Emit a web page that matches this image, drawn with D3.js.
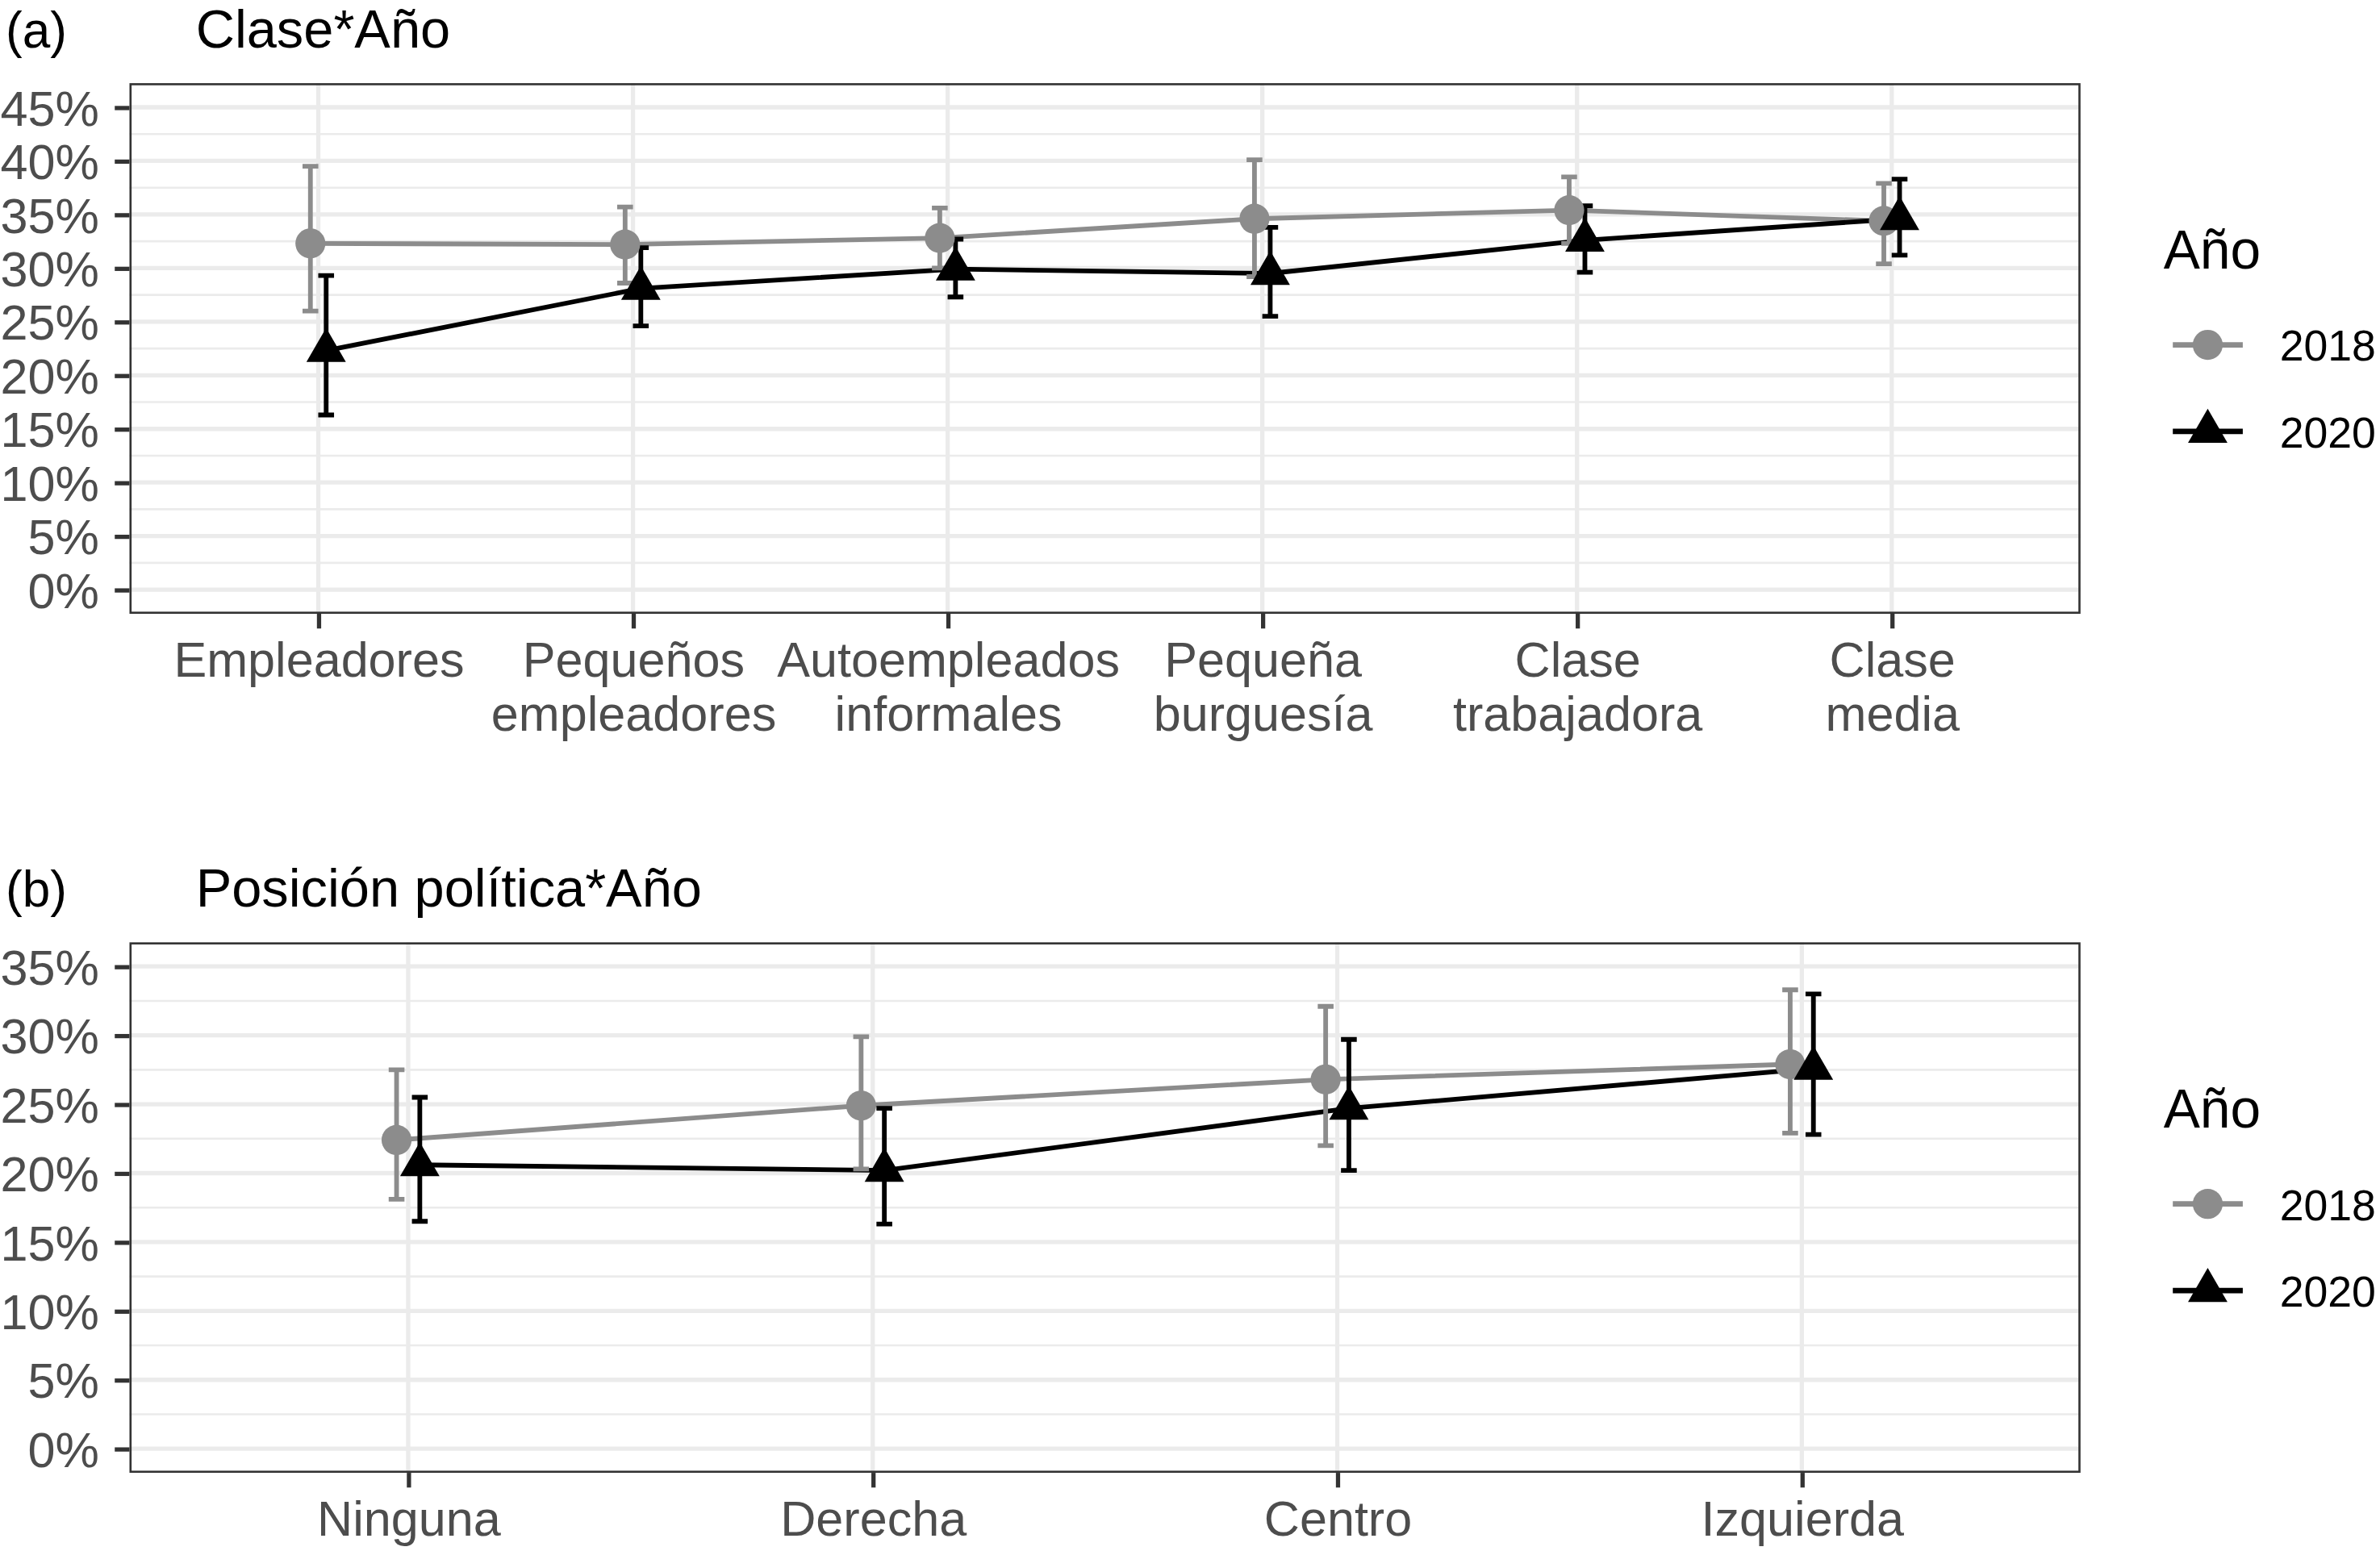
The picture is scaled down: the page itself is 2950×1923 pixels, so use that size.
<!DOCTYPE html>
<html>
<head>
<meta charset="utf-8">
<script src="https://cdn.jsdelivr.net/npm/d3@7"></script>
<style>
html, body { margin: 0; padding: 0; background: #fff; }
svg { display: block; }
text { font-family: "Liberation Sans", Arial, Helvetica, sans-serif; }
</style>
</head>
<body>
<div id="chart"></div>
<script>
"use strict";
// (a) Clase*Año
var claseCategories = [["Empleadores"], ["Pequeños", "empleadores"], ["Autoempleados", "informales"],
    ["Pequeña", "burguesía"], ["Clase", "trabajadora"], ["Clase", "media"]];
var clase2018 = [32.3, 32.2, 32.8, 34.6, 35.4, 34.4];
var clase2018Lo = [26.0, 28.6, 30.0, 29.2, 32.3, 30.4];
var clase2018Hi = [39.5, 35.7, 35.6, 40.1, 38.5, 37.9];
var clase2020 = [22.3, 28.1, 29.9, 29.5, 32.6, 34.6];
var clase2020Lo = [16.3, 24.6, 27.3, 25.5, 29.6, 31.2];
var clase2020Hi = [29.3, 31.9, 32.7, 33.8, 35.8, 38.3];

// (b) Posición política*Año
var polCategories = [["Ninguna"], ["Derecha"], ["Centro"], ["Izquierda"]];
var pol2018 = [22.4, 24.9, 26.8, 27.9];
var pol2018Lo = [18.1, 20.3, 22.0, 22.9];
var pol2018Hi = [27.5, 29.9, 32.1, 33.3];
var pol2020 = [20.6, 20.2, 24.7, 27.6];
var pol2020Lo = [16.5, 16.3, 20.2, 22.8];
var pol2020Hi = [25.5, 24.7, 29.7, 33.0];

var years = ["2018", "2020"];
var yearColors = ["#8c8c8c", "#000000"];
var yearShapes = ["circle", "triangle"];

var W = 1568, H = 1022.12;
var plotLeft = 85.3, plotRight = 1370.7;
var tickColor = "#333333", gridColor = "#ebebeb", labelColor = "#4d4d4d";

var svg = d3.select("#chart").append("svg")
    .attr("width", 2950)
    .attr("height", 1923)
    .attr("viewBox", "0 0 " + W + " " + H);
svg.append("rect").attr("width", W).attr("height", H).attr("fill", "#fff");

function shapePath(shape) {
    if (shape === "circle") {
        return d3.symbol().type(d3.symbolCircle).size(Math.PI * 9.9 * 9.9)();
    }
    var r = 15;
    return "M0," + (-r) + "L" + (r * Math.sqrt(3) / 2) + "," + (r / 2) + "L" + (-r * Math.sqrt(3) / 2) + "," + (r / 2) + "Z";
}

function drawPanel(opts) {
    var g = svg.append("g");
    var top = opts.top, bottom = opts.bottom;
    var pad = opts.yMax * 0.05;
    var y = d3.scaleLinear().domain([-pad, opts.yMax + pad]).range([bottom, top]);
    var x = d3.scalePoint().domain(d3.range(opts.categories.length)).range([plotLeft, plotRight]).padding(0.6);

    // titles
    g.append("text").attr("x", 3.7).attr("y", top - 23.6)
        .attr("font-size", 33).attr("fill", "#000").text(opts.tag);
    g.append("text").attr("x", 129).attr("y", top - 23.6)
        .attr("font-size", 35.5).attr("fill", "#000").text(opts.title);

    // grid
    var major = d3.range(0, opts.yMax + 0.01, 5);
    var minor = d3.range(2.5, opts.yMax, 5);
    g.append("g").selectAll("line").data(minor).enter().append("line")
        .attr("x1", plotLeft).attr("x2", plotRight)
        .attr("y1", function (d) { return y(d); }).attr("y2", function (d) { return y(d); })
        .attr("stroke", gridColor).attr("stroke-width", 1.4);
    g.append("g").selectAll("line").data(major).enter().append("line")
        .attr("x1", plotLeft).attr("x2", plotRight)
        .attr("y1", function (d) { return y(d); }).attr("y2", function (d) { return y(d); })
        .attr("stroke", gridColor).attr("stroke-width", 2.8);
    g.append("g").selectAll("line").data(x.domain()).enter().append("line")
        .attr("y1", top).attr("y2", bottom)
        .attr("x1", function (d) { return x(d); }).attr("x2", function (d) { return x(d); })
        .attr("stroke", gridColor).attr("stroke-width", 2.8);

    // series
    var series = years.map(function (yr, k) {
        var off = (k - 0.5) * 0.05 * x.step();
        return {
            year: yr, color: yearColors[k], shape: yearShapes[k],
            values: opts.est[k].map(function (v, i) {
                return { x: x(i) + off, est: v, lo: opts.lo[k][i], hi: opts.hi[k][i] };
            })
        };
    });
    var line = d3.line().x(function (d) { return d.x; }).y(function (d) { return y(d.est); });
    g.append("g").selectAll("path").data(series).enter().append("path")
        .attr("d", function (s) { return line(s.values); })
        .attr("fill", "none").attr("stroke", function (s) { return s.color; })
        .attr("stroke-width", 3.1);
    var cap = 5.2;
    series.forEach(function (s) {
        g.append("g").selectAll("path").data(s.values).enter().append("path")
            .attr("d", function (d) {
                return "M" + (d.x - cap) + "," + y(d.hi) + "H" + (d.x + cap) +
                    "M" + d.x + "," + y(d.hi) + "V" + y(d.lo) +
                    "M" + (d.x - cap) + "," + y(d.lo) + "H" + (d.x + cap);
            })
            .attr("fill", "none").attr("stroke", s.color).attr("stroke-width", 3.1);
    });
    series.forEach(function (s) {
        g.append("g").selectAll("path").data(s.values).enter().append("path")
            .attr("transform", function (d) { return "translate(" + d.x + "," + y(d.est) + ")"; })
            .attr("d", shapePath(s.shape))
            .attr("fill", s.color);
    });

    // border (clipped half line like ggplot)
    g.append("rect").attr("x", plotLeft + 0.7).attr("y", top + 0.7)
        .attr("width", plotRight - plotLeft - 1.4).attr("height", bottom - top - 1.4)
        .attr("fill", "none").attr("stroke", tickColor).attr("stroke-width", 1.4);

    // y axis
    var yAxis = g.append("g").attr("transform", "translate(" + plotLeft + ",0)")
        .call(d3.axisLeft(y).tickValues(major).tickSize(9.7).tickPadding(10.3)
            .tickFormat(function (d) { return d + "%"; }));
    yAxis.select(".domain").remove();
    yAxis.selectAll(".tick line").attr("stroke", tickColor).attr("stroke-width", 2.8);
    yAxis.selectAll(".tick text").attr("font-size", 32.5).attr("fill", labelColor)
        .attr("font-family", null).attr("dy", "0.355em");

    // x axis
    var xAxis = g.append("g").attr("transform", "translate(0," + bottom + ")")
        .call(d3.axisBottom(x).tickSize(9.7).tickFormat(function () { return ""; }));
    xAxis.select(".domain").remove();
    xAxis.selectAll(".tick line").attr("stroke", tickColor).attr("stroke-width", 2.8);
    xAxis.selectAll(".tick text").attr("font-size", 32.5).attr("fill", labelColor)
        .attr("font-family", null).attr("dy", null).attr("y", null)
        .each(function (d) {
            var t = d3.select(this);
            opts.categories[d].forEach(function (l, j) {
                t.append("tspan").attr("x", 0).attr("y", 41.6 + j * 35.5).text(l);
            });
        });

    // legend
    var mid = (top + bottom) / 2;
    var lg = g.append("g");
    lg.append("text").attr("x", 1425.4).attr("y", mid - 52.9)
        .attr("font-size", 36).attr("fill", "#000").text("Año");
    var keys = lg.selectAll("g.key").data(series).enter().append("g")
        .attr("class", "key")
        .attr("transform", function (s, k) { return "translate(0," + (mid - 2.4 + k * 57.1) + ")"; });
    keys.append("line").attr("x1", 1431.5).attr("x2", 1477.6)
        .attr("stroke", function (s) { return s.color; }).attr("stroke-width", 3.6);
    keys.append("path").attr("transform", "translate(1454.5,0)")
        .attr("d", function (s) { return shapePath(s.shape); })
        .attr("fill", function (s) { return s.color; });
    keys.append("text").attr("x", 1501.9).attr("y", 10.6)
        .attr("font-size", 28.5).attr("fill", "#000").text(function (s) { return s.year; });
}

drawPanel({
    tag: "(a)", title: "Clase*Año", categories: claseCategories, yMax: 45,
    top: 54.8, bottom: 404.5,
    est: [clase2018, clase2020], lo: [clase2018Lo, clase2020Lo], hi: [clase2018Hi, clase2020Hi]
});
drawPanel({
    tag: "(b)", title: "Posición política*Año", categories: polCategories, yMax: 35,
    top: 621, bottom: 970.6,
    est: [pol2018, pol2020], lo: [pol2018Lo, pol2020Lo], hi: [pol2018Hi, pol2020Hi]
});
</script>
</body>
</html>
